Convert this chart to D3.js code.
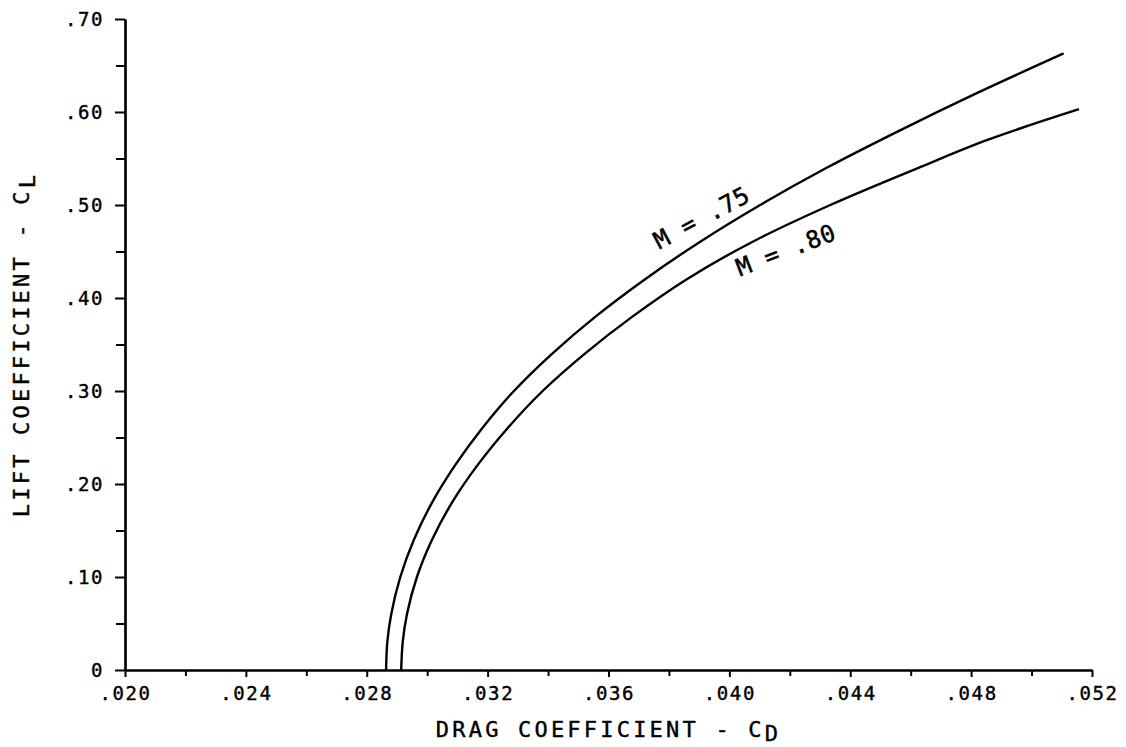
<!DOCTYPE html>
<html>
<head>
<meta charset="utf-8">
<script src="https://cdn.jsdelivr.net/npm/d3@7"></script>
<style>
  html, body { margin: 0; padding: 0; background: #fff; }
  svg { display: block; }
  text { font-family: "DejaVu Sans Mono", monospace; fill: #000; }
</style>
</head>
<body>
<svg id="chart" width="1126" height="747"></svg>
<script>
// ---- data ----
const xTickValues = [0.020, 0.024, 0.028, 0.032, 0.036, 0.040, 0.044, 0.048, 0.052];
const xTickLabels = [".020", ".024", ".028", ".032", ".036", ".040", ".044", ".048", ".052"];
const xMinorTicks = [0.022, 0.026, 0.030, 0.034, 0.038, 0.042, 0.046, 0.050];
const yTickValues = [0, 0.10, 0.20, 0.30, 0.40, 0.50, 0.60, 0.70];
const yTickLabels = ["0", ".10", ".20", ".30", ".40", ".50", ".60", ".70"];
const yMinorTicks = [0.05, 0.15, 0.25, 0.35, 0.45, 0.55, 0.65];

// M = .75 curve (drag coefficient, lift coefficient)
const m75CD = [0.02864, 0.02868, 0.02881, 0.02911, 0.02956, 0.03016, 0.03092, 0.03182, 0.03287, 0.03413, 0.03557, 0.03720, 0.03901, 0.04102, 0.04322, 0.04563, 0.04817, 0.05106];
const m75CL = [0.000, 0.030, 0.060, 0.100, 0.140, 0.180, 0.220, 0.260, 0.300, 0.340, 0.380, 0.420, 0.460, 0.500, 0.540, 0.580, 0.620, 0.663];
// M = .80 curve
const m80CD = [0.02914, 0.02919, 0.02933, 0.02966, 0.03016, 0.03082, 0.03166, 0.03266, 0.03382, 0.03521, 0.03679, 0.03858, 0.04074, 0.04334, 0.04626, 0.04854, 0.05157];
const m80CL = [0.000, 0.030, 0.060, 0.100, 0.140, 0.180, 0.220, 0.260, 0.300, 0.340, 0.380, 0.420, 0.460, 0.500, 0.540, 0.570, 0.603];

const seriesLabels = ["M = .75", "M = .80"];
const labelAnchorCD = [0.03768, 0.04035];
const labelAnchorCL = [0.452, 0.423];
const labelAngles = [-28, -21];

const xTitle = "DRAG COEFFICIENT - C";
const xTitleSub = "D";
const yTitle = "LIFT COEFFICIENT - C";
const yTitleSub = "L";

// ---- scales ----
const svg = d3.select("#chart");
const x = d3.scaleLinear().domain([0.020, 0.052]).range([125, 1092]);
const y = d3.scaleLinear().domain([0, 0.70]).range([670, 19]);

// ---- axes ----
const xAxisMajor = d3.axisBottom(x).tickValues(xTickValues)
  .tickFormat((d, i) => xTickLabels[i]).tickSizeInner(7).tickSizeOuter(0).tickPadding(10);
const xAxisMinor = d3.axisBottom(x).tickValues(xMinorTicks).tickFormat("").tickSizeInner(6).tickSizeOuter(0);
const yAxisMajor = d3.axisLeft(y).tickValues(yTickValues)
  .tickFormat((d, i) => yTickLabels[i]).tickSizeInner(10).tickSizeOuter(0).tickPadding(11);
const yAxisMinor = d3.axisLeft(y).tickValues(yMinorTicks).tickFormat("").tickSizeInner(9).tickSizeOuter(0);

function styleAxis(g) {
  g.selectAll("path.domain").attr("stroke", "#000").attr("stroke-width", 2.2);
  g.selectAll(".tick line").attr("stroke", "#000").attr("stroke-width", 2);
  g.selectAll(".tick text").style("font-family", "'DejaVu Sans Mono', monospace")
    .style("font-size", "19px").attr("fill", "#000")
    .attr("stroke", "#000").attr("stroke-width", 0.4)
    .style("letter-spacing", "1.6px");
}

svg.append("g").attr("transform", `translate(0,${y(0)})`).call(xAxisMinor).call(styleAxis);
svg.append("g").attr("transform", `translate(0,${y(0)})`).call(xAxisMajor).call(styleAxis);
svg.append("g").attr("transform", `translate(${x(0.020)},0)`).call(yAxisMinor).call(styleAxis);
svg.append("g").attr("transform", `translate(${x(0.020)},0)`).call(yAxisMajor).call(styleAxis);

// ---- curves ----
const line = d3.line().x(d => x(d[0])).y(d => y(d[1])).curve(d3.curveCatmullRom.alpha(0.5));
const series = [
  d3.zip(m75CD, m75CL),
  d3.zip(m80CD, m80CL)
];
svg.selectAll("path.curve").data(series).enter().append("path")
  .attr("class", "curve")
  .attr("d", line)
  .attr("fill", "none")
  .attr("stroke", "#000")
  .attr("stroke-width", 2.4)
  .attr("stroke-linejoin", "round");

// ---- curve labels ----
seriesLabels.forEach((lab, i) => {
  const px = x(labelAnchorCD[i]), py = y(labelAnchorCL[i]);
  svg.append("text")
    .attr("transform", `translate(${px},${py}) rotate(${labelAngles[i]})`)
    .style("font-size", "24px")
    .attr("stroke", "#000").attr("stroke-width", 0.5)
    .style("letter-spacing", "0.5px")
    .text(lab);
});

// ---- axis titles ----
const xt = svg.append("text")
  .attr("x", (x(0.020) + x(0.052)) / 2)
  .attr("y", 737)
  .attr("text-anchor", "middle")
  .style("font-size", "22px")
  .attr("stroke", "#000").attr("stroke-width", 0.4)
  .style("letter-spacing", "3.2px");
xt.append("tspan").text(xTitle);
xt.append("tspan").attr("dy", 4).text(xTitleSub);

const yt = svg.append("text")
  .attr("transform", `translate(29,${(y(0) + y(0.70)) / 2}) rotate(-90)`)
  .attr("text-anchor", "middle")
  .style("font-size", "22px")
  .attr("stroke", "#000").attr("stroke-width", 0.4)
  .style("letter-spacing", "3.2px");
yt.append("tspan").text(yTitle);
yt.append("tspan").attr("dy", 6).text(yTitleSub);
</script>
</body>
</html>
